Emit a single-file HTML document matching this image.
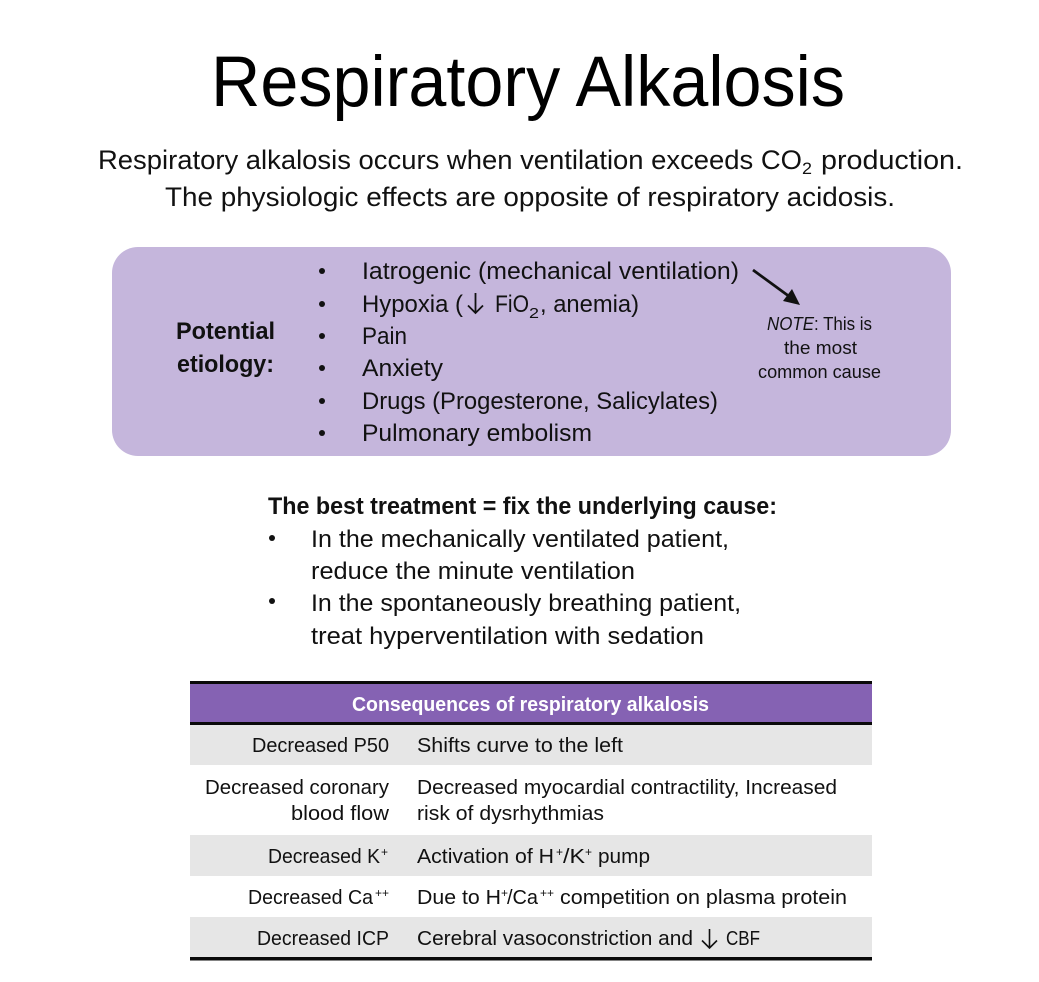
<!DOCTYPE html>
<html><head><meta charset="utf-8"><title>Respiratory Alkalosis</title>
<style>
html,body{margin:0;padding:0;background:#fff}
svg{display:block}
text{font-family:"Liberation Sans",sans-serif;fill:#111}
.b{font-weight:bold}
.s{font-size:27px}.l{font-size:24px}.t{font-size:20.5px}.n{font-size:18px}
.sup{font-size:12px}
</style></head><body>
<svg width="1039" height="982" viewBox="0 0 1039 982" xmlns="http://www.w3.org/2000/svg">
<rect width="1039" height="982" fill="#fff"/>
<text x="211" y="106" font-size="71" textLength="634" lengthAdjust="spacingAndGlyphs" style="fill:#000">Respiratory Alkalosis</text>

<text class="s" x="98" y="169" textLength="704" lengthAdjust="spacingAndGlyphs">Respiratory alkalosis occurs when ventilation exceeds CO</text>
<text x="802" y="174" font-size="17" textLength="10" lengthAdjust="spacingAndGlyphs">2</text>
<text class="s" x="821" y="169" textLength="142" lengthAdjust="spacingAndGlyphs">production.</text>
<text class="s" x="165" y="206" textLength="730" lengthAdjust="spacingAndGlyphs">The physiologic effects are opposite of respiratory acidosis.</text>

<rect x="112" y="247" width="839" height="209" rx="26" fill="#c5b6dc"/>
<text class="l b" x="176" y="339" textLength="99" lengthAdjust="spacingAndGlyphs">Potential</text>
<text class="l b" x="177" y="372" textLength="97" lengthAdjust="spacingAndGlyphs">etiology:</text>
<g fill="#111">
<circle cx="322" cy="271" r="3"/><circle cx="322" cy="304" r="3"/><circle cx="322" cy="336" r="3"/>
<circle cx="322" cy="368" r="3"/><circle cx="322" cy="401" r="3"/><circle cx="322" cy="433" r="3"/>
</g>
<text class="l" x="362" y="279" textLength="377" lengthAdjust="spacingAndGlyphs">Iatrogenic (mechanical ventilation)</text>
<text class="l" x="362" y="312" textLength="101" lengthAdjust="spacingAndGlyphs">Hypoxia (</text>
<path d="M475.500 293V313M468 305.500L475.500 313L483 305.500" fill="none" stroke="#111" stroke-width="1.800"/>
<text class="l" x="495" y="312" textLength="34" lengthAdjust="spacingAndGlyphs">FiO</text>
<text x="529" y="318" font-size="15" textLength="10" lengthAdjust="spacingAndGlyphs">2</text>
<text class="l" x="540" y="312" textLength="99" lengthAdjust="spacingAndGlyphs">, anemia)</text>
<text class="l" x="362" y="344" textLength="45" lengthAdjust="spacingAndGlyphs">Pain</text>
<text class="l" x="362" y="376" textLength="81" lengthAdjust="spacingAndGlyphs">Anxiety</text>
<text class="l" x="362" y="409" textLength="356" lengthAdjust="spacingAndGlyphs">Drugs (Progesterone, Salicylates)</text>
<text class="l" x="362" y="441" textLength="230" lengthAdjust="spacingAndGlyphs">Pulmonary embolism</text>

<line x1="753" y1="270" x2="790" y2="297" stroke="#111" stroke-width="2.800"/>
<polygon points="800,305 783,301 792,289" fill="#111"/>
<text class="n" x="767" y="330" textLength="105" lengthAdjust="spacingAndGlyphs"><tspan font-style="italic">NOTE</tspan>: This is</text>
<text class="n" x="784" y="354" textLength="73" lengthAdjust="spacingAndGlyphs">the most</text>
<text class="n" x="758" y="378" textLength="123" lengthAdjust="spacingAndGlyphs">common cause</text>

<text class="l b" x="268" y="514" textLength="509" lengthAdjust="spacingAndGlyphs">The best treatment = fix the underlying cause:</text>
<circle cx="272" cy="538" r="3" fill="#111"/><circle cx="272" cy="601" r="3" fill="#111"/>
<text class="l" x="311" y="547" textLength="418" lengthAdjust="spacingAndGlyphs">In the mechanically ventilated patient,</text>
<text class="l" x="311" y="579" textLength="324" lengthAdjust="spacingAndGlyphs">reduce the minute ventilation</text>
<text class="l" x="311" y="611" textLength="430" lengthAdjust="spacingAndGlyphs">In the spontaneously breathing patient,</text>
<text class="l" x="311" y="644" textLength="393" lengthAdjust="spacingAndGlyphs">treat hyperventilation with sedation</text>

<rect x="190" y="684" width="682" height="39" fill="#8562b3"/>
<rect x="190" y="681" width="682" height="3" fill="#0a0a0a"/>
<rect x="190" y="722" width="682" height="3.500" fill="#0a0a0a"/>
<rect x="190" y="725" width="682" height="40" fill="#e6e6e6"/>
<rect x="190" y="835" width="682" height="41" fill="#e6e6e6"/>
<rect x="190" y="917" width="682" height="40" fill="#e6e6e6"/>
<rect x="190" y="957" width="682" height="3.500" fill="#0a0a0a"/>
<text class="t b" x="352" y="711" textLength="357" lengthAdjust="spacingAndGlyphs" style="fill:#fff">Consequences of respiratory alkalosis</text>

<text class="t" x="252" y="752" textLength="137" lengthAdjust="spacingAndGlyphs">Decreased P50</text>
<text class="t" x="417" y="752" textLength="206" lengthAdjust="spacingAndGlyphs">Shifts curve to the left</text>
<text class="t" x="205" y="794" textLength="184" lengthAdjust="spacingAndGlyphs">Decreased coronary</text>
<text class="t" x="291" y="820" textLength="98" lengthAdjust="spacingAndGlyphs">blood flow</text>
<text class="t" x="417" y="794" textLength="420" lengthAdjust="spacingAndGlyphs">Decreased myocardial contractility, Increased</text>
<text class="t" x="417" y="820" textLength="187" lengthAdjust="spacingAndGlyphs">risk of dysrhythmias</text>

<text class="t" x="268" y="863" textLength="112" lengthAdjust="spacingAndGlyphs">Decreased K</text>
<text class="sup" x="381" y="856">+</text>
<text class="t" x="417" y="863" textLength="137" lengthAdjust="spacingAndGlyphs">Activation of H</text>
<text class="sup" x="556" y="856">+</text>
<text class="t" x="563" y="863" textLength="22" lengthAdjust="spacingAndGlyphs">/K</text>
<text class="sup" x="585" y="856">+</text>
<text class="t" x="598" y="863" textLength="52" lengthAdjust="spacingAndGlyphs">pump</text>

<text class="t" x="248" y="904" textLength="125" lengthAdjust="spacingAndGlyphs">Decreased Ca</text>
<text class="sup" x="375" y="897" textLength="14" lengthAdjust="spacingAndGlyphs">++</text>
<text class="t" x="417" y="904" textLength="84" lengthAdjust="spacingAndGlyphs">Due to H</text>
<text class="sup" x="501" y="897">+</text>
<text class="t" x="507" y="904" textLength="31" lengthAdjust="spacingAndGlyphs">/Ca</text>
<text class="sup" x="540" y="897" textLength="14" lengthAdjust="spacingAndGlyphs">++</text>
<text class="t" x="560" y="904" textLength="287" lengthAdjust="spacingAndGlyphs">competition on plasma protein</text>

<text class="t" x="257" y="945" textLength="132" lengthAdjust="spacingAndGlyphs">Decreased ICP</text>
<text class="t" x="417" y="945" textLength="276" lengthAdjust="spacingAndGlyphs">Cerebral vasoconstriction and</text>
<path d="M709.500 929V948M702 940.500L709.500 948L717 940.500" fill="none" stroke="#111" stroke-width="1.600"/>
<text class="t" x="726" y="945" textLength="34" lengthAdjust="spacingAndGlyphs">CBF</text>
</svg>
</body></html>
